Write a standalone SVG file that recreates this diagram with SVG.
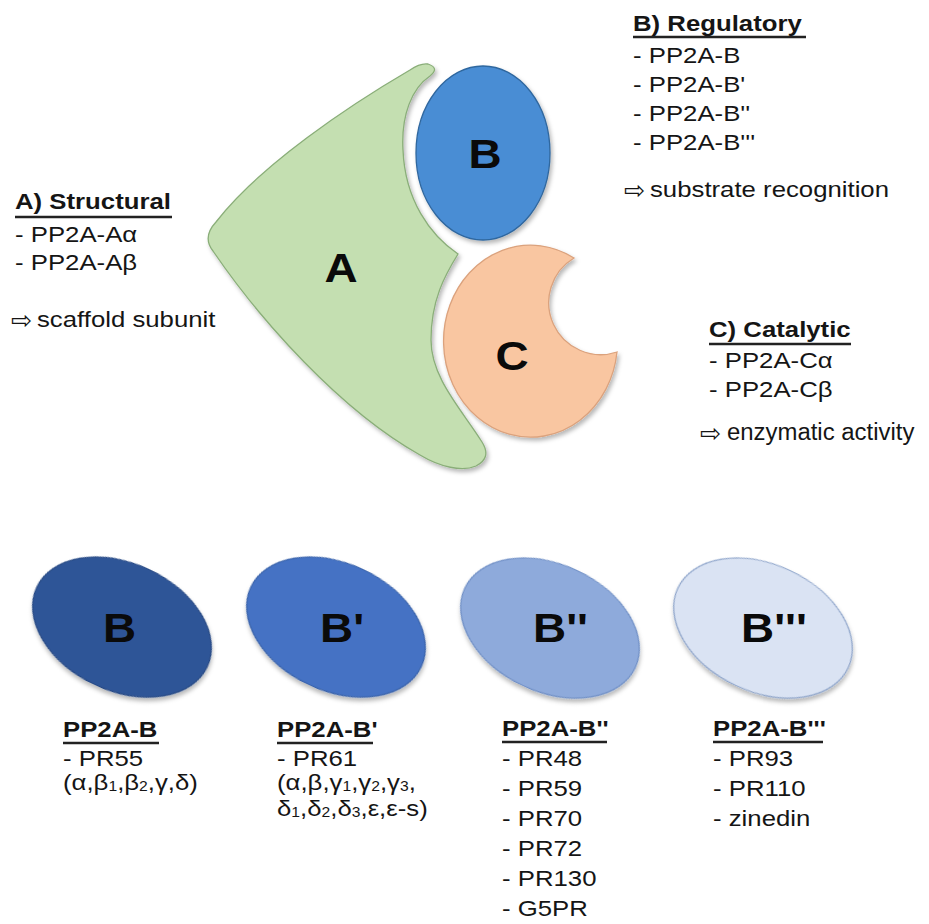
<svg xmlns="http://www.w3.org/2000/svg" width="929" height="924" viewBox="0 0 929 924">
<defs>
<filter id="sh" x="-20%" y="-20%" width="140%" height="140%">
<feDropShadow dx="2" dy="3" stdDeviation="2.2" flood-color="#000" flood-opacity="0.28"/>
</filter>
<style>
.t{font-family:"Liberation Sans",Arial,sans-serif;font-size:23px;fill:#151515}
.b{font-weight:bold}
.big{font-family:"Liberation Sans",Arial,sans-serif;font-size:41px;font-weight:bold;fill:#0a0a0a}
.arr{font-family:"DejaVu Sans",sans-serif;font-size:25px;fill:#151515}
.ul{stroke:#222;stroke-width:2.4}
.sub{font-size:14px}
</style>
</defs>
<rect width="929" height="924" fill="#fff"/>
<g id="connectors"/>
<g id="node-A">
<path filter="url(#sh)" fill="#c4dfb1" stroke="#8aae79" stroke-width="1.3" d="M 410 70 C 350 105 260 165 216 222 Q 202 237 213 251 C 260 320 340 410 420 455 C 440 467 462 472 476 466 Q 492 458 482 442 C 462 410 431 378 431 340 C 431 300 445 275 458 254 C 430 235 405 200 403 150 C 401 115 412 88 430 76 Q 440 68 428 64 Q 420 63 410 70 Z"/>
<text class="big" text-anchor="middle" transform="translate(341 282) scale(1.12 1)">A</text>
</g>
<g id="node-B">
<ellipse filter="url(#sh)" cx="483" cy="153" rx="67" ry="87" fill="#4a8dd4" stroke="#2f679f" stroke-width="1.3"/>
<text class="big" text-anchor="middle" transform="translate(485 168) scale(1.12 1)">B</text>
</g>
<g id="node-C">
<path filter="url(#sh)" fill="#f9c6a1" stroke="#dba27d" stroke-width="1.3" d="M 574 258 A 87 96 0 1 0 617 352 A 52 52 0 0 1 574 258 Z"/>
<text class="big" text-anchor="middle" transform="translate(512 370) scale(1.12 1)">C</text>
</g>
<g id="label-structural">
<text class="t b" transform="translate(15 209) scale(1.12 1)">A) Structural</text>
<line class="ul" x1="15" y1="217" x2="172" y2="217"/>
<text class="t" transform="translate(15 0) scale(1.12 1)"><tspan x="0" y="242">- PP2A-Aα</tspan><tspan x="0" y="270">- PP2A-Aβ</tspan></text>
<text class="arr" x="11" y="329">⇨</text>
<text class="t" transform="translate(37 327) scale(1.12 1)">scaffold subunit</text>
</g>
<g id="label-regulatory">
<text class="t b" transform="translate(633 31) scale(1.12 1)">B) Regulatory</text>
<line class="ul" x1="633" y1="37" x2="806" y2="37"/>
<text class="t" transform="translate(633 0) scale(1.12 1)"><tspan x="0" y="63">- PP2A-B</tspan><tspan x="0" y="92">- PP2A-B'</tspan><tspan x="0" y="121">- PP2A-B''</tspan><tspan x="0" y="150">- PP2A-B'''</tspan></text>
<text class="arr" x="624" y="199">⇨</text>
<text class="t" transform="translate(650 197) scale(1.12 1)">substrate recognition</text>
</g>
<g id="label-catalytic">
<text class="t b" transform="translate(709 337) scale(1.12 1)">C) Catalytic</text>
<line class="ul" x1="709" y1="344" x2="851" y2="344"/>
<text class="t" transform="translate(709 0) scale(1.12 1)"><tspan x="0" y="368">- PP2A-Cα</tspan><tspan x="0" y="397">- PP2A-Cβ</tspan></text>
<text class="arr" x="700" y="442">⇨</text>
<text class="t" transform="translate(727 440) scale(1.04 1)">enzymatic activity</text>
</g>
<g id="node-B1">
<ellipse filter="url(#sh)" cx="122" cy="627" rx="94" ry="63.5" transform="rotate(25 122 627)" fill="#2f5597" stroke="#284a85" stroke-width="1.2"/>
<text class="big" transform="translate(103 642) scale(1.12 1)">B</text>
<text class="t b" transform="translate(63 737) scale(1.12 1)">PP2A-B</text>
<line class="ul" x1="63" y1="743" x2="159" y2="743"/>
<text class="t" transform="translate(63 0) scale(1.12 1)"><tspan x="0" y="766">- PR55</tspan><tspan x="0" y="790">(α,β<tspan class="sub" dy="1">1</tspan><tspan dy="-1">,β</tspan><tspan class="sub" dy="1">2</tspan><tspan dy="-1">,γ,δ)</tspan></tspan></text>
</g>
<g id="node-B2">
<ellipse filter="url(#sh)" cx="336" cy="627" rx="94" ry="63.5" transform="rotate(25 336 627)" fill="#4472c4" stroke="#3a63ab" stroke-width="1.2"/>
<text class="big" transform="translate(320 642) scale(1.12 1)">B'</text>
<text class="t b" transform="translate(277 737) scale(1.12 1)">PP2A-B'</text>
<line class="ul" x1="277" y1="743" x2="373" y2="743"/>
<text class="t" transform="translate(277 0) scale(1.12 1)"><tspan x="0" y="766">- PR61</tspan><tspan x="0" y="790">(α,β,γ<tspan class="sub" dy="1">1</tspan><tspan dy="-1">,γ</tspan><tspan class="sub" dy="1">2</tspan><tspan dy="-1">,γ</tspan><tspan class="sub" dy="1">3</tspan><tspan dy="-1">,</tspan></tspan><tspan x="0" y="816">δ<tspan class="sub" dy="1">1</tspan><tspan dy="-1">,δ</tspan><tspan class="sub" dy="1">2</tspan><tspan dy="-1">,δ</tspan><tspan class="sub" dy="1">3</tspan><tspan dy="-1">,ε,ε-s)</tspan></tspan></text>
</g>
<g id="node-B3">
<ellipse filter="url(#sh)" cx="550" cy="628" rx="94" ry="63.5" transform="rotate(25 550 628)" fill="#8eaadb" stroke="#6f8fc6" stroke-width="1.2"/>
<text class="big" transform="translate(533 642) scale(1.12 1)">B''</text>
<text class="t b" transform="translate(502 736) scale(1.12 1)">PP2A-B''</text>
<line class="ul" x1="502" y1="742" x2="607" y2="742"/>
<text class="t" transform="translate(502 0) scale(1.12 1)"><tspan x="0" y="766">- PR48</tspan><tspan x="0" y="796">- PR59</tspan><tspan x="0" y="826">- PR70</tspan><tspan x="0" y="856">- PR72</tspan><tspan x="0" y="886">- PR130</tspan><tspan x="0" y="916">- G5PR</tspan></text>
</g>
<g id="node-B4">
<ellipse filter="url(#sh)" cx="763" cy="628" rx="94" ry="63.5" transform="rotate(25 763 628)" fill="#dae3f3" stroke="#8ea5cb" stroke-width="1.2"/>
<text class="big" transform="translate(741 642) scale(1.12 1)">B'''</text>
<text class="t b" transform="translate(713 736) scale(1.12 1)">PP2A-B'''</text>
<line class="ul" x1="713" y1="742" x2="823" y2="742"/>
<text class="t" transform="translate(713 0) scale(1.12 1)"><tspan x="0" y="766">- PR93</tspan><tspan x="0" y="796">- PR110</tspan><tspan x="0" y="826">- zinedin</tspan></text>
</g>
</svg>
